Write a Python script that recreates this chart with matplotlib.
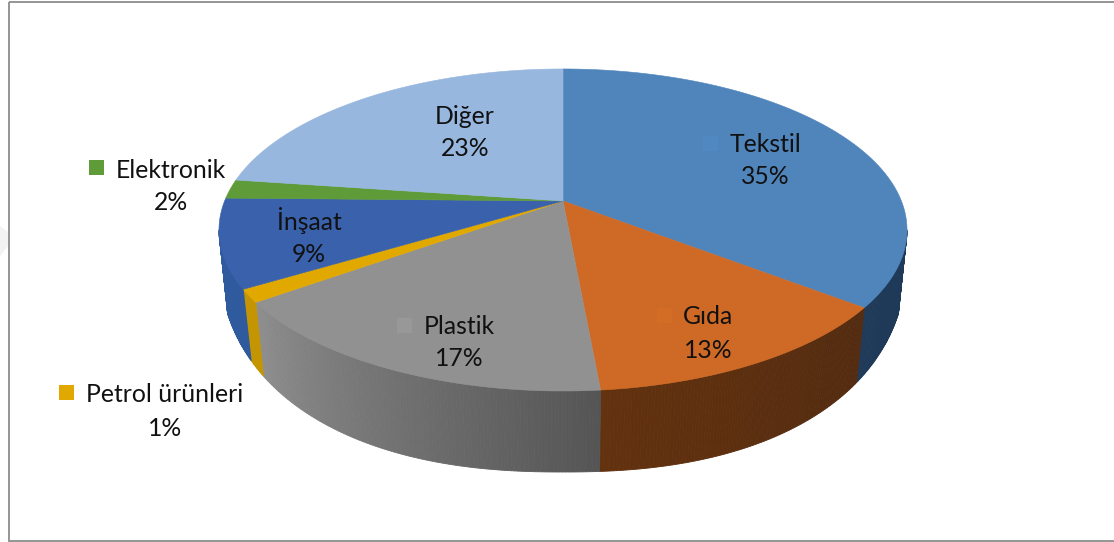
import numpy as np
import matplotlib
matplotlib.use("Agg")
import matplotlib.pyplot as plt
from matplotlib.patches import Polygon, Rectangle

# Share of each sector, percent, going clockwise from 12 o'clock
sectors = ["Tekstil", "Gıda", "Plastik", "Petrol ürünleri", "İnşaat", "Elektronik", "Diğer"]
shares = [35.45, 13.1, 16.55, 1.3, 8.9, 1.9, 22.8]

top_colors = ["#5085BC", "#CF6A26", "#919191", "#E1A900", "#3A62AC", "#5F9B38", "#97B7DE"]
# side wall colour at the start / end of the sector (clockwise)
wall_start = ["#1F3A58", "#532B10", "#555555", "#C49400", "#2F5A9E", "#4A7A2C", "#7A93B2"]
wall_end = ["#1F3A58", "#63320F", "#8E8E8E", "#C49400", "#2F5A9E", "#4A7A2C", "#7A93B2"]
key_colors = ["#5088C2", "#D36C24", "#989898", "#E1A900", "#3A62AC", "#5F9B38", "#97B7DE"]
label_pos = [(765, 144), (708, 317), (459, 326), (165, 395), (309, 221), (171, 170), (465, 116)]
key_pos = [(710, 143), (664, 315), (404, 325), (66, 392), (282, 220), (96, 167), (440, 115)]

plt.rcParams["font.family"] = ["Lato", "DejaVu Sans"]

# perspective of the pie top, picture pixels
cx, cy = 563, 201
a, b, k = 338.4, 155.8, -0.18
# bottom rim
bot_cy, bot_rx, bot_ry, bot_p, bot_s = 250, 344, 222, 2.3, 0.975


def rim(t):
    u, v = np.sin(t), -np.cos(t)
    d = 1 + k * v
    return cx + a * u / d, cy + b * v / d


def bottom(x):
    bx = cx + bot_s * (x - cx)
    q = np.clip(np.abs(bx - cx) / bot_rx, 0, 1)
    return bx, bot_cy + bot_ry * (1 - q ** bot_p) ** (1 / bot_p)


def mix(c1, c2, f):
    c1 = np.array(matplotlib.colors.to_rgb(c1))
    c2 = np.array(matplotlib.colors.to_rgb(c2))
    return tuple(c1 + (c2 - c1) * f)


fig = plt.figure(figsize=(11.14, 5.42), dpi=100)
ax = fig.add_axes([0, 0, 1, 1])
ax.set_xlim(0, 1114)
ax.set_ylim(542, 0)
ax.axis("off")

# faint mark at the left edge and the chart frame
ax.add_patch(Polygon([(0, 226), (8, 232), (8, 246), (0, 256)], fc="#F3F3F3", ec="none"))
ax.add_patch(Rectangle((8.5, 1.5), 1120, 539, fc="none", ec="#8C8C8C", lw=1.3))

edges = np.cumsum([0] + shares) / sum(shares) * 2 * np.pi

# the wall shows only between the two side extremes of the rim
tt = np.linspace(0, 2 * np.pi, 2000)
xx, _ = rim(tt)
t_right, t_left = tt[np.argmax(xx)], tt[np.argmin(xx)]

for i in range(len(shares)):
    t0, t1 = max(edges[i], t_right), min(edges[i + 1], t_left)
    if t1 <= t0:
        continue
    ts = np.linspace(t0, t1, max(int((t1 - t0) * 120), 3))
    for j in range(len(ts) - 1):
        x0, y0 = rim(ts[j])
        x1, y1 = rim(ts[j + 1])
        bx0, by0 = bottom(x0)
        bx1, by1 = bottom(x1)
        col = mix(wall_start[i], wall_end[i], j / (len(ts) - 1))
        ax.add_patch(Polygon([(x0, y0), (x1, y1), (bx1, by1), (bx0, by0)],
                             fc=col, ec=col, lw=0.6))

for i in range(len(shares)):
    ts = np.linspace(edges[i], edges[i + 1], max(int((edges[i + 1] - edges[i]) * 120), 3))
    x, y = rim(ts)
    pts = [(cx, cy)] + list(zip(x, y))
    ax.add_patch(Polygon(pts, fc=top_colors[i], ec=top_colors[i], lw=0.4))

for i, name in enumerate(sectors):
    lx, ly = label_pos[i]
    ax.text(lx, ly, name, fontsize=17.8, ha="center", va="center", color="#111111")
    ax.text(lx, ly + 33, f"{round(shares[i])}%", fontsize=17.8, ha="center", va="center", color="#111111")
    kx, ky = key_pos[i]
    ax.add_patch(Rectangle((kx - 7.5, ky - 7.5), 15, 15, fc=key_colors[i], ec="none"))

fig.savefig("out.png", dpi=100)
